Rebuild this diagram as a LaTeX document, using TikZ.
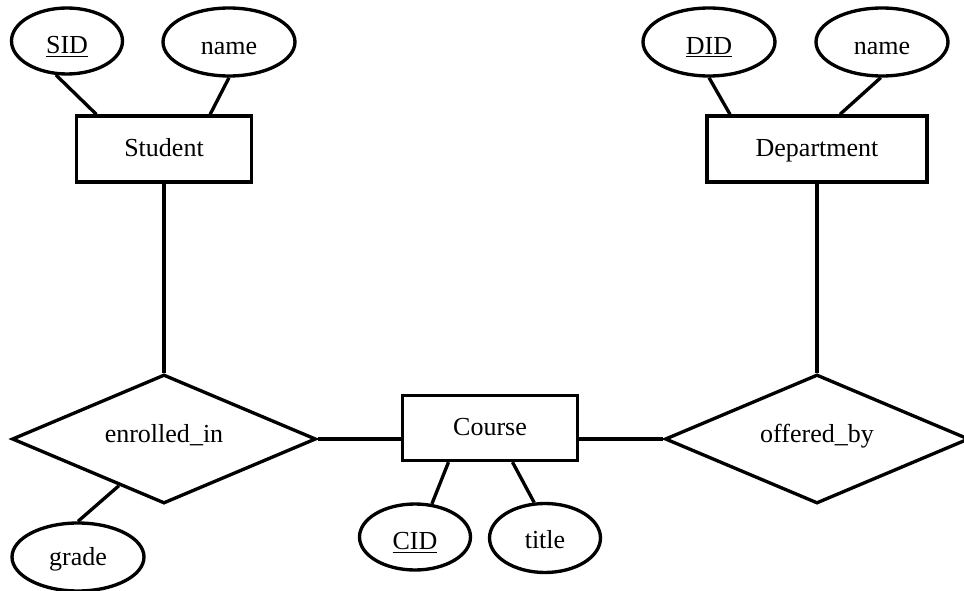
\documentclass[tikz,border=0pt]{standalone}
\usepackage{fontspec}
\setmainfont{Liberation Serif}
\usetikzlibrary{shapes.geometric}

\tikzset{
  entity/.style={draw, rectangle, minimum width=3.5cm, minimum height=1.32cm, inner sep=0pt,
    text height=11pt, text depth=3pt},
  attrib/.style={draw, ellipse, minimum width=2.64cm, minimum height=1.36cm, inner sep=0pt,
    text height=16pt, text depth=2pt},
  keyattrib/.style={attrib, minimum width=2.22cm, minimum height=1.32cm},
  relation/.style={draw, diamond, aspect=2.36, minimum width=6.08cm, minimum height=2.58cm, inner sep=0pt,
    text height=9pt, text depth=5pt},
}

\begin{document}
\begin{tikzpicture}[x=0.02cm, y=-0.02cm, line width=1.9pt, font=\fontsize{14.8}{18}\selectfont]
                \useasboundingbox (0,0) rectangle (964,591);

                % entities
                \node[entity] (student) at (164,149) {Student};
                \node[entity, minimum width=4.4cm] (dept) at (817,149) {Department};
                \node[entity, minimum height=1.3cm] (course) at (490,428) {Course};

                % relationships
                \node[relation] (enrolled) at (164,439) {enrolled\_in};
                \node[relation] (offered) at (817,439) {offered\_by};

                % attributes
                \node[keyattrib] (sid) at (67,41) {\underline{SID}};
                \node[attrib] (sname) at (229,42) {name};
                \node[attrib] (did) at (709,42) {\underline{DID}};
                \node[attrib] (dname) at (882,42) {name};
                \node[keyattrib] (cid) at (415,537) {\underline{CID}};
                \node[keyattrib, minimum height=1.38cm, text height=14pt] (title) at (545,538) {title};
                \node[attrib, text height=12pt] (grade) at (78,557) {grade};

                \draw (sid.252) -- ([xshift=0.43cm]student.north west);
                \draw (sname.south) -- ([xshift=-0.86cm]student.north east);
                \draw (did.south) -- ([xshift=-1.74cm]dept.north);
                \draw (dname.268) -- ([xshift=0.46cm]dept.north);

                \draw (student) -- (enrolled);
                \draw (dept) -- (offered);
                \draw (enrolled.east) -- (enrolled.east -| course.west);
                \draw (offered.west -| course.east) -- (offered.west);

                \draw ([xshift=-0.83cm]course.south) -- (cid.63);
                \draw ([xshift=0.45cm]course.south) -- (title.107);
                \draw (enrolled.226) -- (grade.north);
            \end{tikzpicture}
\end{document}
